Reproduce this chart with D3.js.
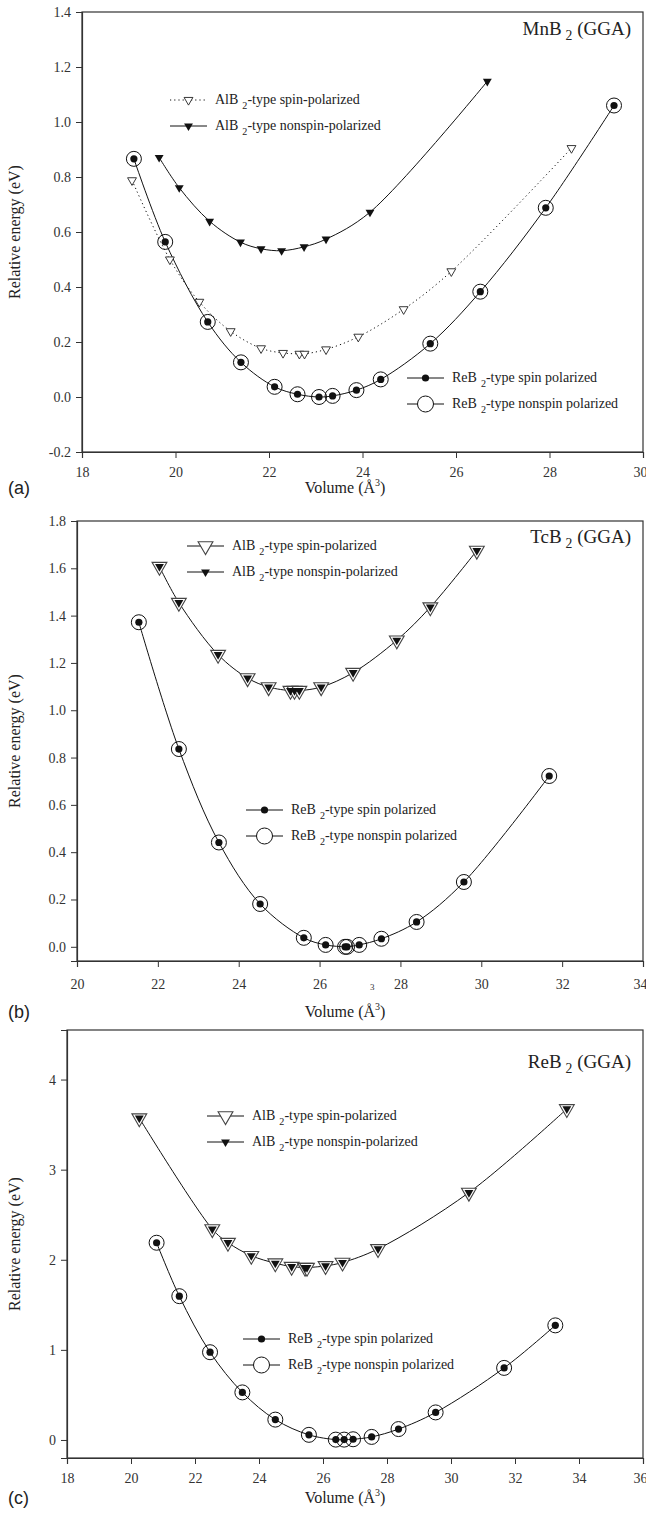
<!DOCTYPE html>
<html>
<head>
<meta charset="utf-8">
<script src="https://cdn.jsdelivr.net/npm/d3@7"></script>
<style>
  body { margin: 0; background: #fff; }
  svg text, svg tspan { font-family: "Liberation Serif", "Times New Roman", serif; }
</style>
</head>
<body>
<svg id="chart" width="646" height="1513"></svg>
<script>
// ---- (a) MnB2 ----
var mnReBVol = [19.11, 19.78, 20.69, 21.40, 22.12, 22.61, 23.07, 23.36, 23.87, 24.39, 25.45, 26.52, 27.92, 29.38],
    mnReBEnergy = [0.866, 0.564, 0.273, 0.126, 0.037, 0.010, 0.0, 0.004, 0.025, 0.064, 0.194, 0.383, 0.688, 1.06];
var mnAlBSpinVol = [19.07, 19.88, 20.51, 21.18, 21.83, 22.30, 22.65, 22.76, 23.22, 23.91, 24.88, 25.90, 28.47],
    mnAlBSpinEnergy = [0.788, 0.50, 0.346, 0.239, 0.177, 0.160, 0.157, 0.157, 0.173, 0.219, 0.319, 0.457, 0.905];
var mnAlBNonVol = [19.65, 20.08, 20.73, 21.39, 21.83, 22.27, 22.75, 23.22, 24.16, 26.67],
    mnAlBNonEnergy = [0.871, 0.761, 0.639, 0.563, 0.539, 0.532, 0.546, 0.574, 0.672, 1.148];
var mnXTicks = [18, 20, 22, 24, 26, 28, 30],
    mnYTicks = [-0.2, 0.0, 0.2, 0.4, 0.6, 0.8, 1.0, 1.2, 1.4];

// ---- (b) TcB2 ----
var tcAlBVol = [22.04, 22.52, 23.49, 24.22, 24.74, 25.28, 25.38, 25.50, 26.04, 26.83, 27.91, 28.74, 29.89],
    tcAlBEnergy = [1.607, 1.455, 1.235, 1.136, 1.098, 1.083, 1.083, 1.083, 1.098, 1.159, 1.296, 1.436, 1.675];
var tcReBVol = [21.53, 22.52, 23.51, 24.53, 25.61, 26.15, 26.63, 26.68, 26.98, 27.53, 28.40, 29.57, 31.68],
    tcReBEnergy = [1.372, 0.836, 0.441, 0.181, 0.038, 0.008, 0.0, 0.0, 0.008, 0.034, 0.105, 0.274, 0.722];
var tcXTicks = [20, 22, 24, 26, 28, 30, 32, 34],
    tcYTicks = [0.0, 0.2, 0.4, 0.6, 0.8, 1.0, 1.2, 1.4, 1.6, 1.8];

// ---- (c) ReB2 ----
var reAlBVol = [20.26, 22.54, 23.03, 23.76, 24.51, 25.02, 25.44, 25.50, 26.08, 26.61, 27.72, 30.56, 33.62],
    reAlBEnergy = [3.572, 2.341, 2.19, 2.045, 1.962, 1.924, 1.913, 1.913, 1.932, 1.97, 2.121, 2.746, 3.674];
var reReBVol = [20.80, 21.51, 22.47, 23.48, 24.51, 25.56, 26.40, 26.66, 26.94, 27.52, 28.36, 29.52, 31.66, 33.26],
    reReBEnergy = [2.189, 1.596, 0.974, 0.528, 0.226, 0.057, 0.004, 0.004, 0.008, 0.034, 0.121, 0.306, 0.80, 1.272];
var reXTicks = [18, 20, 22, 24, 26, 28, 30, 32, 34, 36],
    reYTicks = [0, 1, 2, 3, 4];

var SERIF = "'Liberation Serif', 'Times New Roman', serif",
    SANS = "'Liberation Sans', Arial, sans-serif";

function zip(xs, ys) {
  return xs.map(function (x, i) { return {v: x, e: ys[i]}; });
}

var svg = d3.select("#chart");

var panels = [
  {
    tag: "(a)", compound: "MnB", top: 12, bottom: 452, left: 82, right: 643,
    xDomain: [18, 30], yDomain: [-0.2, 1.4], xTicks: mnXTicks, yTicks: mnYTicks,
    fmt: function (d) { return d.toFixed(1); },
    small: true,
    series: [
      {data: zip(mnAlBSpinVol, mnAlBSpinEnergy), dash: "1.2,3", marker: "triOpen"},
      {data: zip(mnAlBNonVol, mnAlBNonEnergy), dash: null, marker: "triFill"},
      {data: zip(mnReBVol, mnReBEnergy), dash: null, marker: "circleOpen"},
      {data: zip(mnReBVol, mnReBEnergy), dash: null, marker: "dot", noLine: true}
    ],
    legendA: {x: 170, y: 88},
    legendB: {x: 407, y: 366},
    titleY: 23, labelGap: 41, pad: 9
  },
  {
    tag: "(b)", compound: "TcB", top: 521, bottom: 961, left: 77, right: 643,
    xDomain: [20, 34], yDomain: [-0.06, 1.8], xTicks: tcXTicks, yTicks: tcYTicks,
    fmt: function (d) { return d.toFixed(1); },
    small: false,
    series: [
      {data: zip(tcAlBVol, tcAlBEnergy), dash: null, marker: "triOpenBig"},
      {data: zip(tcAlBVol, tcAlBEnergy), dash: null, marker: "triFill", noLine: true},
      {data: zip(tcReBVol, tcReBEnergy), dash: null, marker: "circleOpen"},
      {data: zip(tcReBVol, tcReBEnergy), dash: null, marker: "dot", noLine: true}
    ],
    legendA: {x: 187, y: 25},
    legendB: {x: 246, y: 289},
    titleY: 22, labelGap: 56, pad: 12,
    stray: {x: 370, text: "3"}
  },
  {
    tag: "(c)", compound: "ReB", top: 1030, bottom: 1458, left: 67, right: 643,
    xDomain: [18, 36], yDomain: [-0.2, 4.55], xTicks: reXTicks, yTicks: reYTicks,
    fmt: function (d) { return String(d); },
    small: false,
    series: [
      {data: zip(reAlBVol, reAlBEnergy), dash: null, marker: "triOpenBig"},
      {data: zip(reAlBVol, reAlBEnergy), dash: null, marker: "triFill", noLine: true},
      {data: zip(reReBVol, reReBEnergy), dash: null, marker: "circleOpen"},
      {data: zip(reReBVol, reReBEnergy), dash: null, marker: "dot", noLine: true}
    ],
    legendA: {x: 207, y: 86},
    legendB: {x: 243, y: 309},
    titleY: 38, labelGap: 45, pad: 9
  }
];

var triSmall = d3.symbol().type(d3.symbolTriangle).size(34),
    triBig = d3.symbol().type(d3.symbolTriangle).size(95);

function drawMarker(g, kind, x, y) {
  if (kind === "circleOpen") {
    g.append("circle").attr("cx", x).attr("cy", y).attr("r", 7.5)
      .attr("fill", "none").attr("stroke", "#111").attr("stroke-width", 1);
  } else if (kind === "dot") {
    g.append("circle").attr("cx", x).attr("cy", y).attr("r", 3.6).attr("fill", "#111");
  } else if (kind === "triOpen") {
    g.append("path").attr("d", triSmall())
      .attr("transform", "translate(" + x + "," + y + ") rotate(180)")
      .attr("fill", "#fff").attr("stroke", "#222").attr("stroke-width", 0.9);
  } else if (kind === "triOpenBig") {
    g.append("path").attr("d", triBig())
      .attr("transform", "translate(" + x + "," + y + ") rotate(180)")
      .attr("fill", "#fff").attr("stroke", "#444").attr("stroke-width", 1.1);
  } else if (kind === "triFill") {
    g.append("path").attr("d", triSmall())
      .attr("transform", "translate(" + x + "," + y + ") rotate(180)")
      .attr("fill", "#111");
  }
}

function addChemText(sel, parts) {
  // parts alternate: normal, subscript, normal
  parts.forEach(function (p, i) {
    var t = sel.append("tspan").text(p).style("font-family", SERIF);
    if (i % 2 === 1) {
      t.attr("dy", 5).attr("dx", 4).attr("font-size", "0.72em");
    } else if (i > 0) {
      t.attr("dy", -5);
    }
  });
}

panels.forEach(function (p) {
  var x = d3.scaleLinear().domain(p.xDomain).range([p.left, p.right]),
      y = d3.scaleLinear().domain(p.yDomain).range([p.bottom, p.top]);

  var g = svg.append("g");

  // frame
  g.append("rect")
    .attr("x", p.left).attr("y", p.top)
    .attr("width", p.right - p.left).attr("height", p.bottom - p.top)
    .attr("fill", "none").attr("stroke", "#333").attr("stroke-width", 1.2);

  var xAxis = g.append("g")
    .attr("transform", "translate(0," + p.bottom + ")")
    .call(d3.axisBottom(x).tickValues(p.xTicks).tickSize(6).tickPadding(p.pad).tickFormat(d3.format("d")));
  var yAxis = g.append("g")
    .attr("transform", "translate(" + p.left + ",0)")
    .call(d3.axisLeft(y).tickValues(p.yTicks).tickSize(6).tickPadding(5).tickFormat(p.fmt));
  [xAxis, yAxis].forEach(function (a) {
    a.attr("font-family", null).attr("font-size", null);
    a.select(".domain").attr("stroke", "#333").attr("stroke-width", 1.2);
    a.selectAll(".tick line").attr("stroke", "#333");
    a.selectAll("text").attr("font-size", 14).attr("fill", "#333")
      .style("font-family", SERIF);
  });
  // last x label sits on the page edge: keep it inside
  xAxis.selectAll(".tick text").filter(function (d) { return d === p.xTicks[p.xTicks.length - 1]; })
    .attr("text-anchor", "end").attr("dx", 4);

  // curves
  var line = d3.line()
    .curve(d3.curveCatmullRom.alpha(0.5))
    .x(function (d) { return x(d.v); })
    .y(function (d) { return y(d.e); });

  p.series.forEach(function (s) {
    if (s.noLine) return;
    g.append("path")
      .attr("d", line(s.data))
      .attr("fill", "none").attr("stroke", "#111").attr("stroke-width", 1)
      .attr("stroke-dasharray", s.dash);
  });
  p.series.forEach(function (s) {
    s.data.forEach(function (d) { drawMarker(g, s.marker, x(d.v), y(d.e)); });
  });

  // legend AlB2
  var la = p.legendA;
  var aRows = p.small
    ? [{label: "-type spin-polarized", mark: "triOpen", dash: "1.2,3"},
       {label: "-type nonspin-polarized", mark: "triFill", dash: null}]
    : [{label: "-type spin-polarized", mark: "triOpenBig", dash: null},
       {label: "-type nonspin-polarized", mark: "triFill", dash: null}];
  aRows.forEach(function (r, i) {
    var yy = p.top + la.y + i * 26;
    g.append("line").attr("x1", la.x).attr("x2", la.x + 37).attr("y1", yy).attr("y2", yy)
      .attr("stroke", "#111").attr("stroke-width", 1).attr("stroke-dasharray", r.dash);
    drawMarker(g, r.mark, la.x + 18.5, yy);
    var t = g.append("text").attr("x", la.x + 45).attr("y", yy + 4)
      .attr("font-size", 14).attr("fill", "#222").style("font-family", SERIF);
    addChemText(t, ["AlB", "2", r.label]);
  });

  // legend ReB2
  var lb = p.legendB;
  var bRows = [{label: "-type spin polarized", mark: "dot"},
               {label: "-type nonspin polarized", mark: "circleBig"}];
  bRows.forEach(function (r, i) {
    var yy = p.top + lb.y + i * 26;
    g.append("line").attr("x1", lb.x).attr("x2", lb.x + 37).attr("y1", yy).attr("y2", yy)
      .attr("stroke", "#111").attr("stroke-width", 1);
    if (r.mark === "circleBig") {
      g.append("circle").attr("cx", lb.x + 18.5).attr("cy", yy).attr("r", 8)
        .attr("fill", "#fff").attr("stroke", "#111");
    } else {
      drawMarker(g, r.mark, lb.x + 18.5, yy);
    }
    var t = g.append("text").attr("x", lb.x + 45).attr("y", yy + 4)
      .attr("font-size", 14).attr("fill", "#222").style("font-family", SERIF);
    addChemText(t, ["ReB", "2", r.label]);
  });

  // compound title
  var tt = g.append("text").attr("x", p.right - 12).attr("y", p.top + p.titleY)
    .attr("text-anchor", "end").attr("font-size", 19).attr("fill", "#222")
    .style("font-family", SERIF);
  addChemText(tt, [p.compound, "2", " (GGA)"]);

  // axis titles
  var midY = (p.top + p.bottom) / 2;
  g.append("text")
    .attr("transform", "translate(20," + midY + ") rotate(-90)")
    .attr("text-anchor", "middle").attr("font-size", 16).attr("fill", "#222")
    .style("font-family", SERIF)
    .text("Relative energy (eV)");

  var vt = g.append("text").attr("x", 345).attr("y", p.bottom + p.labelGap)
    .attr("text-anchor", "middle").attr("font-size", 16).attr("fill", "#222")
    .style("font-family", SERIF);
  vt.append("tspan").text("Volume (Å").style("font-family", SERIF);
  vt.append("tspan").text("3").attr("dy", -7).attr("font-size", 10).style("font-family", SERIF);
  vt.append("tspan").text(")").attr("dy", 7).style("font-family", SERIF);

  g.append("text").attr("x", 8).attr("y", p.bottom + p.labelGap + 1)
    .attr("font-size", 18).attr("fill", "#222")
    .style("font-family", SANS)
    .text(p.tag);

  if (p.stray) {
    g.append("text").attr("x", p.stray.x).attr("y", p.bottom + p.pad + 17)
      .attr("font-size", 9).attr("fill", "#333").style("font-family", SERIF)
      .text(p.stray.text);
  }
});
</script>
</body>
</html>
